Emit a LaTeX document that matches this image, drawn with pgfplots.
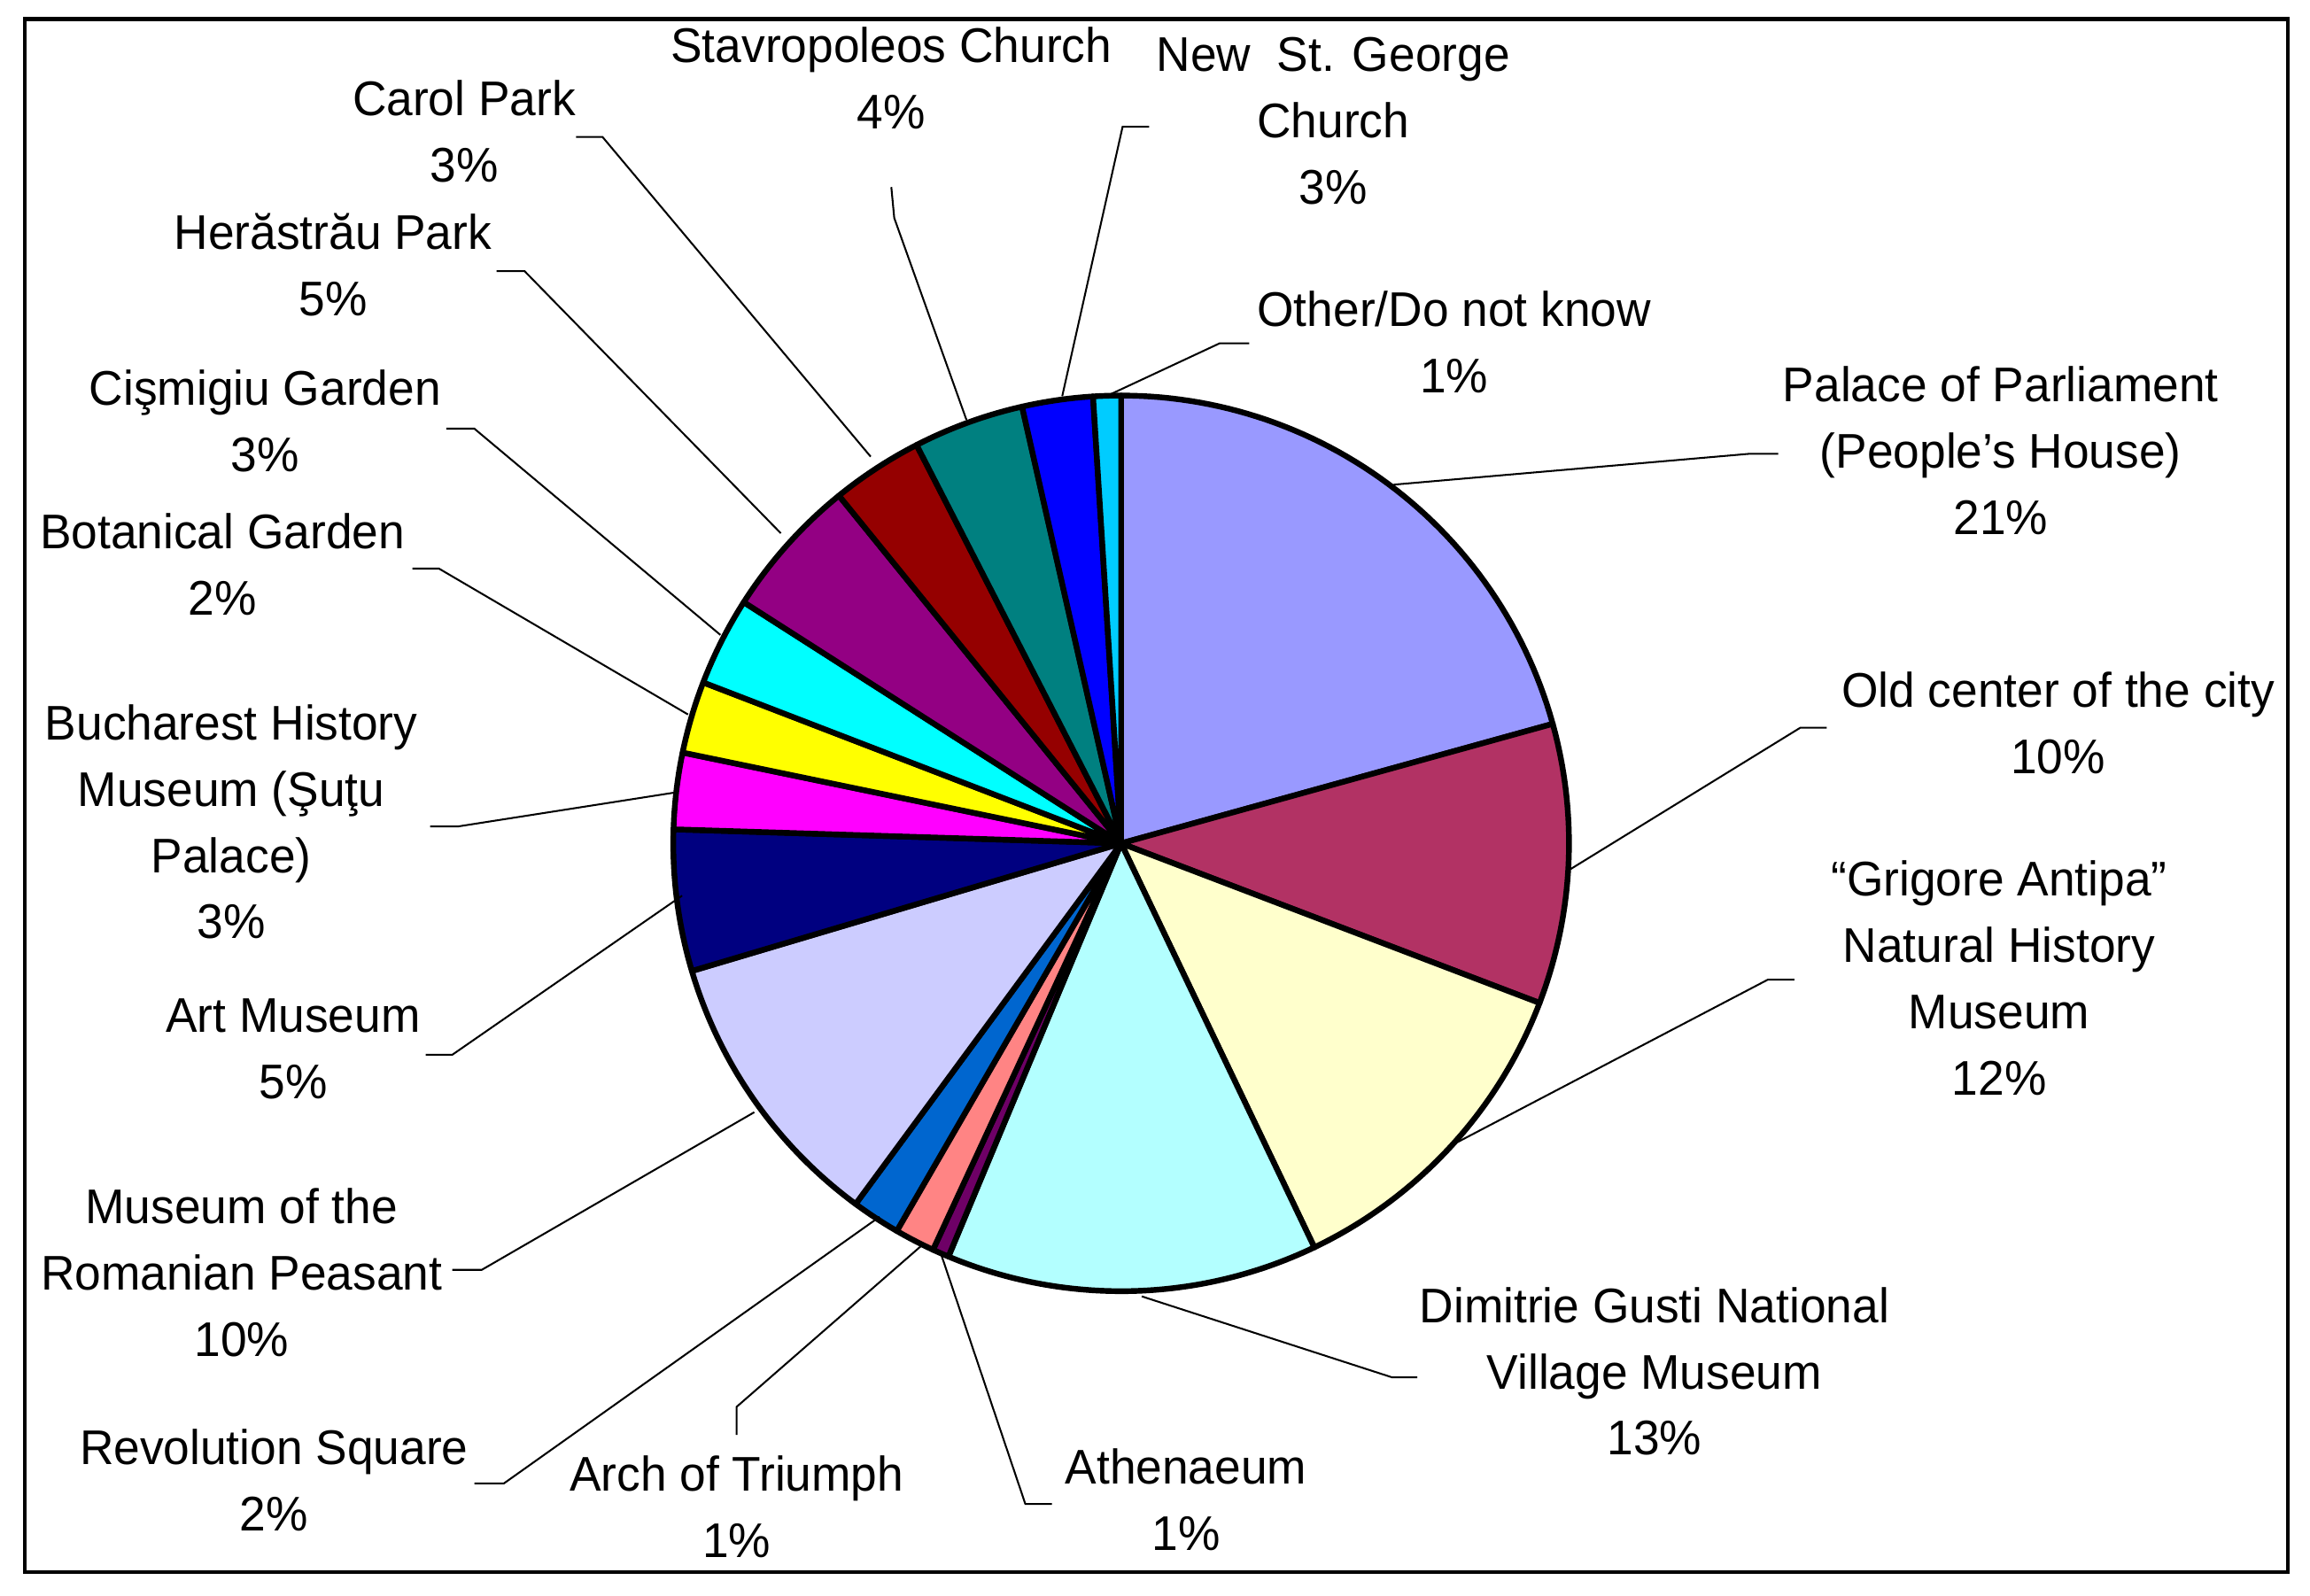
\documentclass[border=0pt]{standalone}
\usepackage{pgfplots}
\pgfplotsset{compat=1.18}
\usepackage{fontspec}
\setmainfont{Liberation Sans}[FakeStretch=0.97]

% colours of the slices (Excel palette as rendered)
\definecolor{cPal}{HTML}{9999FF}
\definecolor{cOld}{HTML}{B23264}
\definecolor{cAnt}{HTML}{FFFFCC}
\definecolor{cGus}{HTML}{B3FFFF}
\definecolor{cAth}{HTML}{6E0066}
\definecolor{cArc}{HTML}{FF8484}
\definecolor{cRev}{HTML}{0066CF}
\definecolor{cPea}{HTML}{CCCCFF}
\definecolor{cArt}{HTML}{000080}
\definecolor{cBuc}{HTML}{FF00FF}
\definecolor{cBot}{HTML}{FFFF00}
\definecolor{cCis}{HTML}{00FFFF}
\definecolor{cHer}{HTML}{930083}
\definecolor{cCar}{HTML}{950000}
\definecolor{cSta}{HTML}{008080}
\definecolor{cNew}{HTML}{0000FF}
\definecolor{cOth}{HTML}{00CCFF}

\newcommand\lbl{\fontsize{9.4}{12.8}\selectfont}
\def\cx{761}\def\cy{572.5}\def\rr{304}
\gdef\cum{0}
% one slice: #1 share in percent, #2 colour; clockwise from 12 o'clock
\newcommand\pieslice[2]{%
  \pgfmathsetmacro\aa{90-3.6*\cum}%
  \pgfmathsetmacro\bb{90-3.6*(\cum+#1)}%
  \pgfmathsetmacro\nc{\cum+#1}\xdef\cum{\nc}%
  \edef\tmp{\noexpand\addplot[fill=#2, draw=black, line width=1.1pt, line join=round,
    mark=none, solid, domain=\bb:\aa, samples=60, variable=\noexpand\t]
    ({\cx+\rr*cos(\noexpand\t)}, {\cy-\rr*sin(\noexpand\t)}) -- (axis cs:\cx,\cy) -- cycle;}%
  \tmp}

\begin{document}
\begin{tikzpicture}
\begin{axis}[
  width=156.8mm, height=108.3mm, scale only axis,
  xmin=0, xmax=1568, ymin=0, ymax=1083, y dir=reverse,
  hide axis, clip=false,
  leader/.style={black, line width=0.35pt, mark=none, solid}
]
\path (axis cs:0,0) rectangle (axis cs:1568,1083);
\draw[line width=0.75pt] (axis cs:17,13) rectangle (axis cs:1553,1067);

% shares (per cent)
\pieslice{20.7}{cPal}  % Palace of Parliament
\pieslice{10.1}{cOld}  % Old center
\pieslice{12.1}{cAnt}  % Grigore Antipa
\pieslice{13.4}{cGus}  % Dimitrie Gusti
\pieslice{0.6}{cAth}   % Athenaeum
\pieslice{1.45}{cArc}  % Arch of Triumph
\pieslice{1.75}{cRev}  % Revolution Square
\pieslice{10.3}{cPea}  % Romanian Peasant
\pieslice{5.1}{cArt}   % Art Museum
\pieslice{2.75}{cBuc}  % Bucharest History
\pieslice{2.6}{cBot}   % Botanical Garden
\pieslice{3.2}{cCis}   % Cismigiu
\pieslice{5.1}{cHer}   % Herastrau
\pieslice{3.3}{cCar}   % Carol Park
\pieslice{4.0}{cSta}   % Stavropoleos
\pieslice{2.55}{cNew}  % New St. George
\pieslice{1.0}{cOth}   % Other

% leader lines
\addplot[leader] coordinates {(946,329) (1188,308) (1207,308)};
\addplot[leader] coordinates {(1066,590) (1222,494) (1240,494)};
\addplot[leader] coordinates {(988,776) (1200,665) (1218,665)};
\addplot[leader] coordinates {(775,880) (945,935) (962,935)};
\addplot[leader] coordinates {(639,852) (696,1021) (714,1021)};
\addplot[leader] coordinates {(625,846) (500,955) (500,974)};
\addplot[leader] coordinates {(597,826) (342,1007) (322,1007)};
\addplot[leader] coordinates {(512,755) (327,862) (307,862)};
\addplot[leader] coordinates {(463,608) (307,716) (289,716)};
\addplot[leader] coordinates {(458,538) (311,561) (292,561)};
\addplot[leader] coordinates {(467,485) (298,386) (280,386)};
\addplot[leader] coordinates {(489,431) (322,291) (303,291)};
\addplot[leader] coordinates {(530,362) (356,184) (337,184)};
\addplot[leader] coordinates {(591,310) (409,93) (391,93)};
\addplot[leader] coordinates {(656,285) (607,148) (605,127)};
\addplot[leader] coordinates {(721,269) (762,86) (780,86)};
\addplot[leader] coordinates {(753,268) (828,233) (848,233)};

% labels
\node[align=center, font=\lbl] at (axis cs:605,53) {Stavropoleos Church\\4\%};
\node[align=center, font=\lbl] at (axis cs:905,82) {New~ St. George\\Church\\3\%};
\node[align=center, font=\lbl] at (axis cs:315,89) {Carol Park\\3\%};
\node[align=center, font=\lbl] at (axis cs:226,180) {Herăstrău Park\\5\%};
\node[align=center, font=\lbl] at (axis cs:987,232) {Other/Do not know\\1\%};
\node[align=center, font=\lbl] at (axis cs:1358,306) {Palace of Parliament\\(People’s House)\\21\%};
\node[align=center, font=\lbl] at (axis cs:180,286) {Cişmigiu Garden\\3\%};
\node[align=center, font=\lbl] at (axis cs:151,383) {Botanical Garden\\2\%};
\node[align=center, font=\lbl] at (axis cs:1397,491) {Old center of the city\\10\%};
\node[align=center, font=\lbl] at (axis cs:157,558) {Bucharest History\\Museum (Şuţu\\Palace)\\3\%};
\node[align=center, font=\lbl] at (axis cs:1357,664) {“Grigore Antipa”\\Natural History\\Museum\\12\%};
\node[align=center, font=\lbl] at (axis cs:199,712) {Art Museum\\5\%};
\node[align=center, font=\lbl] at (axis cs:164,864) {Museum of the\\Romanian Peasant\\10\%};
\node[align=center, font=\lbl] at (axis cs:1123,931) {Dimitrie Gusti National\\Village Museum\\13\%};
\node[align=center, font=\lbl] at (axis cs:186,1005) {Revolution Square\\2\%};
\node[align=center, font=\lbl] at (axis cs:500,1023) {Arch of Triumph\\1\%};
\node[align=center, font=\lbl] at (axis cs:805,1018) {Athenaeum\\1\%};
\end{axis}
\end{tikzpicture}
\end{document}
